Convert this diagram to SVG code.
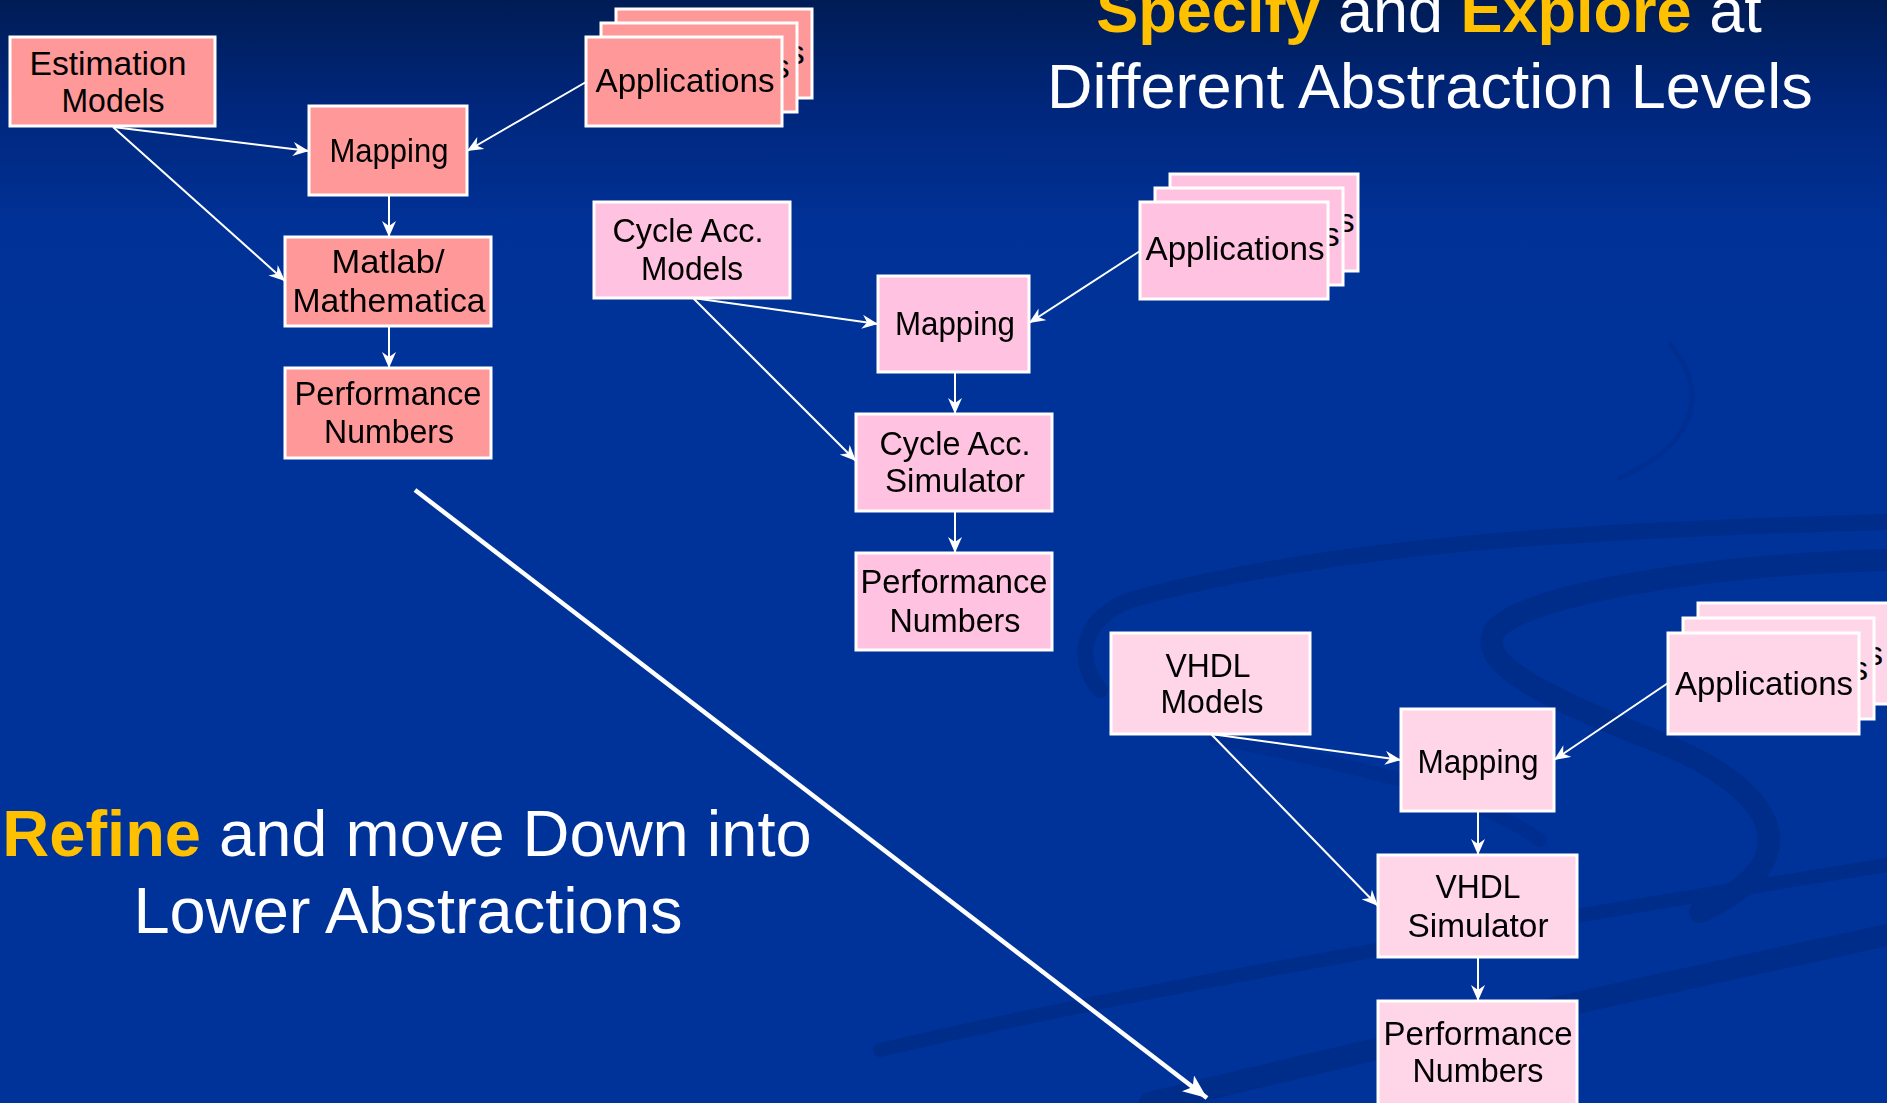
<svg xmlns="http://www.w3.org/2000/svg" width="1887" height="1103" viewBox="0 0 1887 1103">
  <defs>
    <linearGradient id="bg" x1="0" y1="0" x2="0" y2="1103" gradientUnits="userSpaceOnUse">
      <stop offset="0" stop-color="#001C55"/>
      <stop offset="0.09" stop-color="#00267A"/>
      <stop offset="0.2" stop-color="#003196"/>
      <stop offset="0.3" stop-color="#003399"/>
      <stop offset="1" stop-color="#003399"/>
    </linearGradient>
    <marker id="arr" viewBox="0 0 16 14" refX="16" refY="7" markerWidth="16" markerHeight="14" markerUnits="userSpaceOnUse" orient="auto">
      <path d="M0,0 L16,7 L0,14 L5,7 z" fill="#FFFFFF"/>
    </marker>
    <marker id="bigarr" viewBox="0 0 24 20" refX="24" refY="10" markerWidth="24" markerHeight="20" markerUnits="userSpaceOnUse" orient="auto">
      <path d="M0,0 L24,10 L0,20 L6,10 z" fill="#FFFFFF"/>
    </marker>
  </defs>
  <style>
    .box rect { stroke: #FFFFFF; stroke-width: 3; }
    .l1 rect { fill: #FF9999; }
    .l2 rect { fill: #FFC2E0; }
    .l3 rect { fill: #FFD6E8; }
    .lbl { font-family: "Comic Sans MS", "Liberation Sans", "DejaVu Sans", sans-serif; font-size: 34px; fill: #000000; text-anchor: middle; }
    .conn line { stroke: #FFFFFF; stroke-width: 2; fill: none; marker-end: url(#arr); }
    .big { stroke: #FFFFFF; stroke-width: 4.5; fill: none; marker-end: url(#bigarr); }
    .title { font-family: "Liberation Sans", Arial, sans-serif; fill: #FFFFFF; text-anchor: middle; }
    .hl { fill: #FFC000; font-weight: bold; }
    .swirl { fill: none; stroke: #002A85; stroke-linecap: round; }
  </style>

  <!-- background with faint swirl decoration -->
  <rect x="0" y="0" width="1887" height="1103" fill="url(#bg)"/>
  <g id="swirls" opacity="0.7">
    <path class="swirl" stroke-width="16" d="M1100,690 C1075,660 1080,620 1130,600 C1330,545 1580,530 1887,522"/>
    <path class="swirl" stroke-width="22" d="M1887,560 C1700,565 1525,595 1495,630 C1475,665 1545,695 1640,735 C1780,785 1815,860 1700,912"/>
    <path class="swirl" stroke-width="14" opacity="0.6" d="M1215,738 C1350,765 1470,790 1540,840"/>
    <path class="swirl" stroke-width="14" d="M880,1050 C1200,975 1550,920 1887,865"/>
    <path class="swirl" stroke-width="22" d="M1150,1103 C1450,1030 1700,975 1887,935"/>
    <path class="swirl" stroke-width="5" opacity="0.5" d="M1670,345 C1705,385 1705,440 1620,478"/>
  </g>

  <!-- connectors -->
  <g id="connectors" class="conn">
    <line x1="113" y1="127" x2="309" y2="151"/>
    <line x1="113" y1="127" x2="285" y2="281"/>
    <line x1="586" y1="82" x2="467" y2="151"/>
    <line x1="389" y1="195" x2="389" y2="237"/>
    <line x1="389" y1="326" x2="389" y2="368"/>

    <line x1="693" y1="298" x2="878" y2="324"/>
    <line x1="693" y1="298" x2="856" y2="461"/>
    <line x1="1140" y1="251" x2="1029" y2="323"/>
    <line x1="955" y1="372" x2="955" y2="414"/>
    <line x1="955" y1="511" x2="955" y2="553"/>

    <line x1="1211" y1="734" x2="1401" y2="760"/>
    <line x1="1211" y1="734" x2="1378" y2="906"/>
    <line x1="1668" y1="683" x2="1554" y2="760"/>
    <line x1="1478" y1="811" x2="1478" y2="855"/>
    <line x1="1478" y1="957" x2="1478" y2="1001"/>
  </g>
  <line id="refine-arrow" class="big" x1="415" y1="490" x2="1207" y2="1098"/>

  <!-- level 1: estimation -->
  <g id="est-models" class="box l1">
    <rect x="10" y="37" width="205" height="89"/>
    <text class="lbl" x="108" y="75" textLength="157" lengthAdjust="spacingAndGlyphs">Estimation</text>
    <text class="lbl" x="113" y="112" textLength="103" lengthAdjust="spacingAndGlyphs">Models</text>
  </g>
  <g id="est-apps" class="box l1">
    <g transform="translate(30,-28)">
      <rect x="586" y="37" width="196" height="89"/>
      <text class="lbl" x="685" y="92" textLength="179" lengthAdjust="spacingAndGlyphs">Applications</text>
    </g>
    <g transform="translate(15,-14)">
      <rect x="586" y="37" width="196" height="89"/>
      <text class="lbl" x="685" y="92" textLength="179" lengthAdjust="spacingAndGlyphs">Applications</text>
    </g>
    <rect x="586" y="37" width="196" height="89"/>
    <text class="lbl" x="685" y="92" textLength="179" lengthAdjust="spacingAndGlyphs">Applications</text>
  </g>
  <g id="est-mapping" class="box l1">
    <rect x="309" y="106" width="158" height="89"/>
    <text class="lbl" x="389" y="162" textLength="119" lengthAdjust="spacingAndGlyphs">Mapping</text>
  </g>
  <g id="est-matlab" class="box l1">
    <rect x="285" y="237" width="206" height="89"/>
    <text class="lbl" x="388" y="273" textLength="113" lengthAdjust="spacingAndGlyphs">Matlab/</text>
    <text class="lbl" x="389" y="312" textLength="193" lengthAdjust="spacingAndGlyphs">Mathematica</text>
  </g>
  <g id="est-perf" class="box l1">
    <rect x="285" y="368" width="206" height="90"/>
    <text class="lbl" x="388" y="405" textLength="187" lengthAdjust="spacingAndGlyphs">Performance</text>
    <text class="lbl" x="389" y="443" textLength="130" lengthAdjust="spacingAndGlyphs">Numbers</text>
  </g>

  <!-- level 2: cycle accurate -->
  <g id="ca-models" class="box l2">
    <rect x="594" y="202" width="196" height="96"/>
    <text class="lbl" x="688" y="242" textLength="151" lengthAdjust="spacingAndGlyphs">Cycle Acc.</text>
    <text class="lbl" x="692" y="280" textLength="102" lengthAdjust="spacingAndGlyphs">Models</text>
  </g>
  <g id="ca-apps" class="box l2">
    <g transform="translate(30,-28)">
      <rect x="1140" y="202" width="188" height="97"/>
      <text class="lbl" x="1235" y="260" textLength="179" lengthAdjust="spacingAndGlyphs">Applications</text>
    </g>
    <g transform="translate(15,-14)">
      <rect x="1140" y="202" width="188" height="97"/>
      <text class="lbl" x="1235" y="260" textLength="179" lengthAdjust="spacingAndGlyphs">Applications</text>
    </g>
    <rect x="1140" y="202" width="188" height="97"/>
    <text class="lbl" x="1235" y="260" textLength="179" lengthAdjust="spacingAndGlyphs">Applications</text>
  </g>
  <g id="ca-mapping" class="box l2">
    <rect x="878" y="276" width="151" height="96"/>
    <text class="lbl" x="955" y="335" textLength="120" lengthAdjust="spacingAndGlyphs">Mapping</text>
  </g>
  <g id="ca-sim" class="box l2">
    <rect x="856" y="414" width="196" height="97"/>
    <text class="lbl" x="955" y="455" textLength="151" lengthAdjust="spacingAndGlyphs">Cycle Acc.</text>
    <text class="lbl" x="955" y="492" textLength="140" lengthAdjust="spacingAndGlyphs">Simulator</text>
  </g>
  <g id="ca-perf" class="box l2">
    <rect x="856" y="553" width="196" height="97"/>
    <text class="lbl" x="954" y="593" textLength="187" lengthAdjust="spacingAndGlyphs">Performance</text>
    <text class="lbl" x="955" y="632" textLength="131" lengthAdjust="spacingAndGlyphs">Numbers</text>
  </g>

  <!-- level 3: VHDL -->
  <g id="vhdl-models" class="box l3">
    <rect x="1111" y="633" width="199" height="101"/>
    <text class="lbl" x="1208" y="677" textLength="85" lengthAdjust="spacingAndGlyphs">VHDL</text>
    <text class="lbl" x="1212" y="713" textLength="103" lengthAdjust="spacingAndGlyphs">Models</text>
  </g>
  <g id="vhdl-apps" class="box l3">
    <g transform="translate(30,-30)">
      <rect x="1668" y="633" width="191" height="101"/>
      <text class="lbl" x="1764" y="695" textLength="178" lengthAdjust="spacingAndGlyphs">Applications</text>
    </g>
    <g transform="translate(15,-15)">
      <rect x="1668" y="633" width="191" height="101"/>
      <text class="lbl" x="1764" y="695" textLength="178" lengthAdjust="spacingAndGlyphs">Applications</text>
    </g>
    <rect x="1668" y="633" width="191" height="101"/>
    <text class="lbl" x="1764" y="695" textLength="178" lengthAdjust="spacingAndGlyphs">Applications</text>
  </g>
  <g id="vhdl-mapping" class="box l3">
    <rect x="1401" y="709" width="153" height="102"/>
    <text class="lbl" x="1478" y="773" textLength="121" lengthAdjust="spacingAndGlyphs">Mapping</text>
  </g>
  <g id="vhdl-sim" class="box l3">
    <rect x="1378" y="855" width="199" height="102"/>
    <text class="lbl" x="1478" y="898" textLength="85" lengthAdjust="spacingAndGlyphs">VHDL</text>
    <text class="lbl" x="1478" y="937" textLength="141" lengthAdjust="spacingAndGlyphs">Simulator</text>
  </g>
  <g id="vhdl-perf" class="box l3">
    <rect x="1378" y="1001" width="199" height="112"/>
    <text class="lbl" x="1478" y="1045" textLength="189" lengthAdjust="spacingAndGlyphs">Performance</text>
    <text class="lbl" x="1478" y="1082" textLength="131" lengthAdjust="spacingAndGlyphs">Numbers</text>
  </g>

  <!-- headings -->
  <g id="heading-explore">
    <text class="title" x="1429" y="32" font-size="63"><tspan class="hl">Specify</tspan> and <tspan class="hl">Explore</tspan> at</text>
    <text class="title" x="1430" y="108" font-size="63">Different Abstraction Levels</text>
  </g>
  <g id="heading-refine">
    <text class="title" x="407" y="856" font-size="65"><tspan class="hl">Refine</tspan> and move Down into</text>
    <text class="title" x="408" y="933" font-size="65">Lower Abstractions</text>
  </g>
</svg>
